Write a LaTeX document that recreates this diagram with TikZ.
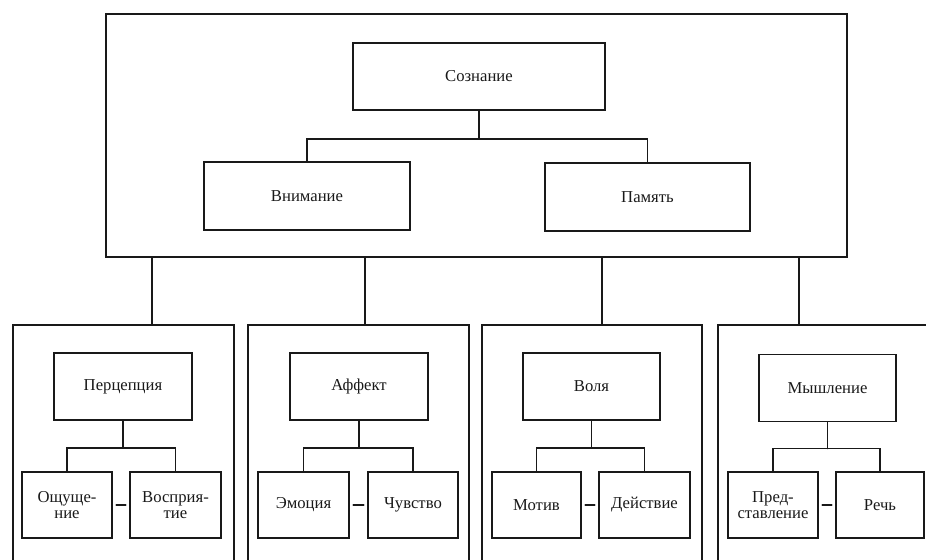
\documentclass[tikz,border=0pt]{standalone}
\usepackage{fontspec}
\setmainfont{Liberation Serif}
\begin{document}
\begin{tikzpicture}[x=0.75pt,y=-0.75pt,
  line width=1.4pt, line cap=round,
  ink/.style={draw={rgb,255:red,25;green,25;blue,25}},
  w/.style={minimum width=#1*0.75pt},
  h/.style={minimum height=#1*0.75pt},
  box/.style={ink, rectangle, inner sep=0pt, align=center,
    text={rgb,255:red,25;green,25;blue,25},
    font=\fontsize{12.5}{12.5}\selectfont},
  wire/.style={ink, line width=1.3pt},
  linkdash/.style={ink, line width=1.3pt, shorten <=2.5pt, shorten >=2.5pt}]
\useasboundingbox (0,0) rectangle (926,560);

% outer upper frame
\node[box, w=741, h=243] (top) at (476.5,135.5) {};
\node[box, w=252, h=67] (soz) at (479,76.5) {Сознание};
\node[box, w=206, h=68] (vnim) at (307,196) {Внимание};
\node[box, w=205, h=68] (pam) at (647.5,197) {Память};
\draw[wire] (soz.south) -- ++(0,28) coordinate (b0);
\draw[wire] (vnim.north) |- (b0) -| (pam.north);

% panel frames
\draw[ink] (13,560) -- (13,325) -- (234,325) -- (234,560);
\draw[ink] (248,560) -- (248,325) -- (469,325) -- (469,560);
\draw[ink] (482,560) -- (482,325) -- (702,325) -- (702,560);
\draw[ink] (718,560) -- (718,325) -- (926,325);

% drops from upper frame to panels
\coordinate (d1) at (152,325);
\coordinate (d2) at (365,325);
\coordinate (d3) at (602,325);
\coordinate (d4) at (799,325);
\foreach \d in {d1,d2,d3,d4} \draw[wire] (top.south -| \d) -- (\d);

% panel 1
\node[box, w=138, h=67] (perc) at (123,386.5) {Перцепция};
\node[box, w=90, h=66] (osh) at (67,505) {Ощуще-\\ние};
\node[box, w=91, h=66] (vosp) at (175.5,505) {Восприя-\\тие};
\draw[wire] (perc.south) -- ++(0,27) coordinate (pb1);
\draw[wire] (osh.north) |- (pb1) -| (vosp.north);
\draw[linkdash] (osh.east) -- (vosp.west);

% panel 2
\node[box, w=138, h=67] (aff) at (359,386.5) {Аффект};
\node[box, w=91, h=66] (emo) at (303.5,505) {Эмоция};
\node[box, w=90, h=66] (chuv) at (413,505) {Чувство};
\draw[wire] (aff.south) -- ++(0,27) coordinate (pb2);
\draw[wire] (emo.north) |- (pb2) -| (chuv.north);
\draw[linkdash] (emo.east) -- (chuv.west);

% panel 3
\node[box, w=137, h=67] (vol) at (591.5,386.5) {Воля};
\node[box, w=89, h=66] (mot) at (536.5,505) {Мотив};
\node[box, w=91, h=66] (deist) at (644.5,505) {Действие};
\draw[wire] (vol.south) -- ++(0,27) coordinate (pb3);
\draw[wire] (mot.north) |- (pb3) -| (deist.north);
\draw[linkdash] (mot.east) -- (deist.west);

% panel 4
\node[box, w=137, h=67] (mysh) at (827.5,388) {Мышление};
\node[box, w=90, h=66] (pred) at (773,505) {Пред-\\ставление};
\node[box, w=88, h=66] (rech) at (880,505) {Речь};
\draw[wire] (mysh.south) -- ++(0,26) coordinate (pb4);
\draw[wire] (pred.north) |- (pb4) -| (rech.north);
\draw[linkdash] (pred.east) -- (rech.west);
\end{tikzpicture}
\end{document}
